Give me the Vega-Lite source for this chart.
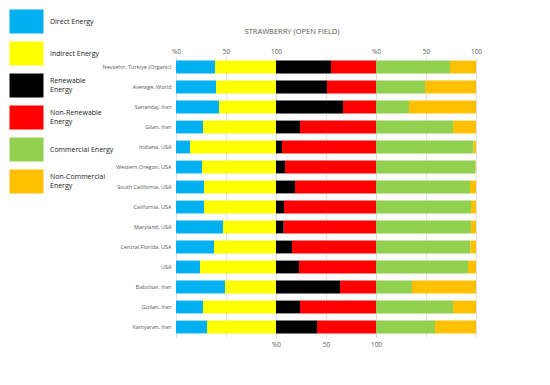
{
  "$schema": "https://vega.github.io/schema/vega-lite/v6.json",
  "background": "white",
  "padding": {"left": 9, "top": 4, "right": 5, "bottom": 5},
  "config": {
    "view": {"stroke": null},
    "font": "Open Sans",
    "concat": {"spacing": 0}
  },
  "spacing": 0,
  "bounds": "flush",
  "datasets": {
    "energy": [
      {"loc": "Nevsehir, Türkiye (Organic)", "cat": "Direct Energy", "val": 39, "panel": 1, "ord": 1},
      {"loc": "Nevsehir, Türkiye (Organic)", "cat": "Indirect Energy", "val": 61, "panel": 1, "ord": 2},
      {"loc": "Average, World", "cat": "Direct Energy", "val": 40, "panel": 1, "ord": 1},
      {"loc": "Average, World", "cat": "Indirect Energy", "val": 60, "panel": 1, "ord": 2},
      {"loc": "Sanandaj, Iran", "cat": "Direct Energy", "val": 43, "panel": 1, "ord": 1},
      {"loc": "Sanandaj, Iran", "cat": "Indirect Energy", "val": 57, "panel": 1, "ord": 2},
      {"loc": "Gilan, Iran", "cat": "Direct Energy", "val": 27, "panel": 1, "ord": 1},
      {"loc": "Gilan, Iran", "cat": "Indirect Energy", "val": 73, "panel": 1, "ord": 2},
      {"loc": "Indiana, USA", "cat": "Direct Energy", "val": 14, "panel": 1, "ord": 1},
      {"loc": "Indiana, USA", "cat": "Indirect Energy", "val": 86, "panel": 1, "ord": 2},
      {"loc": "Western Oregon, USA", "cat": "Direct Energy", "val": 26, "panel": 1, "ord": 1},
      {"loc": "Western Oregon, USA", "cat": "Indirect Energy", "val": 74, "panel": 1, "ord": 2},
      {"loc": "South California, USA", "cat": "Direct Energy", "val": 28, "panel": 1, "ord": 1},
      {"loc": "South California, USA", "cat": "Indirect Energy", "val": 72, "panel": 1, "ord": 2},
      {"loc": "California, USA", "cat": "Direct Energy", "val": 28, "panel": 1, "ord": 1},
      {"loc": "California, USA", "cat": "Indirect Energy", "val": 72, "panel": 1, "ord": 2},
      {"loc": "Maryland, USA", "cat": "Direct Energy", "val": 47, "panel": 1, "ord": 1},
      {"loc": "Maryland, USA", "cat": "Indirect Energy", "val": 53, "panel": 1, "ord": 2},
      {"loc": "Central Florida, USA", "cat": "Direct Energy", "val": 38, "panel": 1, "ord": 1},
      {"loc": "Central Florida, USA", "cat": "Indirect Energy", "val": 62, "panel": 1, "ord": 2},
      {"loc": "USA", "cat": "Direct Energy", "val": 24, "panel": 1, "ord": 1},
      {"loc": "USA", "cat": "Indirect Energy", "val": 76, "panel": 1, "ord": 2},
      {"loc": "Babolsar, Iran", "cat": "Direct Energy", "val": 49, "panel": 1, "ord": 1},
      {"loc": "Babolsar, Iran", "cat": "Indirect Energy", "val": 51, "panel": 1, "ord": 2},
      {"loc": "Guilan, Iran", "cat": "Direct Energy", "val": 27, "panel": 1, "ord": 1},
      {"loc": "Guilan, Iran", "cat": "Indirect Energy", "val": 73, "panel": 1, "ord": 2},
      {"loc": "Kamyaran, Iran", "cat": "Direct Energy", "val": 31, "panel": 1, "ord": 1},
      {"loc": "Kamyaran, Iran", "cat": "Indirect Energy", "val": 69, "panel": 1, "ord": 2},

      {"loc": "Nevsehir, Türkiye (Organic)", "cat": "Renewable Energy", "val": 55, "panel": 2, "ord": 1},
      {"loc": "Nevsehir, Türkiye (Organic)", "cat": "Non-Renewable Energy", "val": 45, "panel": 2, "ord": 2},
      {"loc": "Average, World", "cat": "Renewable Energy", "val": 51, "panel": 2, "ord": 1},
      {"loc": "Average, World", "cat": "Non-Renewable Energy", "val": 49, "panel": 2, "ord": 2},
      {"loc": "Sanandaj, Iran", "cat": "Renewable Energy", "val": 67, "panel": 2, "ord": 1},
      {"loc": "Sanandaj, Iran", "cat": "Non-Renewable Energy", "val": 33, "panel": 2, "ord": 2},
      {"loc": "Gilan, Iran", "cat": "Renewable Energy", "val": 24, "panel": 2, "ord": 1},
      {"loc": "Gilan, Iran", "cat": "Non-Renewable Energy", "val": 76, "panel": 2, "ord": 2},
      {"loc": "Indiana, USA", "cat": "Renewable Energy", "val": 6, "panel": 2, "ord": 1},
      {"loc": "Indiana, USA", "cat": "Non-Renewable Energy", "val": 94, "panel": 2, "ord": 2},
      {"loc": "Western Oregon, USA", "cat": "Renewable Energy", "val": 9, "panel": 2, "ord": 1},
      {"loc": "Western Oregon, USA", "cat": "Non-Renewable Energy", "val": 91, "panel": 2, "ord": 2},
      {"loc": "South California, USA", "cat": "Renewable Energy", "val": 19, "panel": 2, "ord": 1},
      {"loc": "South California, USA", "cat": "Non-Renewable Energy", "val": 81, "panel": 2, "ord": 2},
      {"loc": "California, USA", "cat": "Renewable Energy", "val": 8, "panel": 2, "ord": 1},
      {"loc": "California, USA", "cat": "Non-Renewable Energy", "val": 92, "panel": 2, "ord": 2},
      {"loc": "Maryland, USA", "cat": "Renewable Energy", "val": 7.7, "panel": 2, "ord": 1},
      {"loc": "Maryland, USA", "cat": "Non-Renewable Energy", "val": 92.3, "panel": 2, "ord": 2},
      {"loc": "Central Florida, USA", "cat": "Renewable Energy", "val": 16, "panel": 2, "ord": 1},
      {"loc": "Central Florida, USA", "cat": "Non-Renewable Energy", "val": 84, "panel": 2, "ord": 2},
      {"loc": "USA", "cat": "Renewable Energy", "val": 23, "panel": 2, "ord": 1},
      {"loc": "USA", "cat": "Non-Renewable Energy", "val": 77, "panel": 2, "ord": 2},
      {"loc": "Babolsar, Iran", "cat": "Renewable Energy", "val": 64, "panel": 2, "ord": 1},
      {"loc": "Babolsar, Iran", "cat": "Non-Renewable Energy", "val": 36, "panel": 2, "ord": 2},
      {"loc": "Guilan, Iran", "cat": "Renewable Energy", "val": 24, "panel": 2, "ord": 1},
      {"loc": "Guilan, Iran", "cat": "Non-Renewable Energy", "val": 76, "panel": 2, "ord": 2},
      {"loc": "Kamyaran, Iran", "cat": "Renewable Energy", "val": 41, "panel": 2, "ord": 1},
      {"loc": "Kamyaran, Iran", "cat": "Non-Renewable Energy", "val": 59, "panel": 2, "ord": 2},

      {"loc": "Nevsehir, Türkiye (Organic)", "cat": "Commercial Energy", "val": 74, "panel": 3, "ord": 1},
      {"loc": "Nevsehir, Türkiye (Organic)", "cat": "Non-Commercial Energy", "val": 26, "panel": 3, "ord": 2},
      {"loc": "Average, World", "cat": "Commercial Energy", "val": 49, "panel": 3, "ord": 1},
      {"loc": "Average, World", "cat": "Non-Commercial Energy", "val": 51, "panel": 3, "ord": 2},
      {"loc": "Sanandaj, Iran", "cat": "Commercial Energy", "val": 33, "panel": 3, "ord": 1},
      {"loc": "Sanandaj, Iran", "cat": "Non-Commercial Energy", "val": 67, "panel": 3, "ord": 2},
      {"loc": "Gilan, Iran", "cat": "Commercial Energy", "val": 77, "panel": 3, "ord": 1},
      {"loc": "Gilan, Iran", "cat": "Non-Commercial Energy", "val": 23, "panel": 3, "ord": 2},
      {"loc": "Indiana, USA", "cat": "Commercial Energy", "val": 97.5, "panel": 3, "ord": 1},
      {"loc": "Indiana, USA", "cat": "Non-Commercial Energy", "val": 2.5, "panel": 3, "ord": 2},
      {"loc": "Western Oregon, USA", "cat": "Commercial Energy", "val": 99.6, "panel": 3, "ord": 1},
      {"loc": "Western Oregon, USA", "cat": "Non-Commercial Energy", "val": 0.4, "panel": 3, "ord": 2},
      {"loc": "South California, USA", "cat": "Commercial Energy", "val": 94, "panel": 3, "ord": 1},
      {"loc": "South California, USA", "cat": "Non-Commercial Energy", "val": 6, "panel": 3, "ord": 2},
      {"loc": "California, USA", "cat": "Commercial Energy", "val": 95, "panel": 3, "ord": 1},
      {"loc": "California, USA", "cat": "Non-Commercial Energy", "val": 5, "panel": 3, "ord": 2},
      {"loc": "Maryland, USA", "cat": "Commercial Energy", "val": 95, "panel": 3, "ord": 1},
      {"loc": "Maryland, USA", "cat": "Non-Commercial Energy", "val": 5, "panel": 3, "ord": 2},
      {"loc": "Central Florida, USA", "cat": "Commercial Energy", "val": 94.5, "panel": 3, "ord": 1},
      {"loc": "Central Florida, USA", "cat": "Non-Commercial Energy", "val": 5.5, "panel": 3, "ord": 2},
      {"loc": "USA", "cat": "Commercial Energy", "val": 92, "panel": 3, "ord": 1},
      {"loc": "USA", "cat": "Non-Commercial Energy", "val": 8, "panel": 3, "ord": 2},
      {"loc": "Babolsar, Iran", "cat": "Commercial Energy", "val": 36, "panel": 3, "ord": 1},
      {"loc": "Babolsar, Iran", "cat": "Non-Commercial Energy", "val": 64, "panel": 3, "ord": 2},
      {"loc": "Guilan, Iran", "cat": "Commercial Energy", "val": 77, "panel": 3, "ord": 1},
      {"loc": "Guilan, Iran", "cat": "Non-Commercial Energy", "val": 23, "panel": 3, "ord": 2},
      {"loc": "Kamyaran, Iran", "cat": "Commercial Energy", "val": 59, "panel": 3, "ord": 1},
      {"loc": "Kamyaran, Iran", "cat": "Non-Commercial Energy", "val": 41, "panel": 3, "ord": 2}
    ]
  },
  "data": {"name": "energy"},
  "resolve": {"scale": {"color": "shared", "y": "shared"}},
  "hconcat": [
    {
      "width": 100,
      "height": 280,
      "transform": [{"filter": "datum.panel == 1"}],
      "mark": {"type": "bar"},
      "encoding": {
        "y": {
          "field": "loc", "type": "nominal", "title": null,
          "sort": ["Nevsehir, Türkiye (Organic)", "Average, World", "Sanandaj, Iran", "Gilan, Iran", "Indiana, USA", "Western Oregon, USA", "South California, USA", "California, USA", "Maryland, USA", "Central Florida, USA", "USA", "Babolsar, Iran", "Guilan, Iran", "Kamyaran, Iran"],
          "scale": {"paddingInner": 0.36, "paddingOuter": 0.18},
          "axis": {"domain": false, "ticks": false, "labelFontSize": 5.5, "labelColor": "#595959", "labelPadding": 5, "labelLimit": 200}
        },
        "x": {
          "field": "val", "type": "quantitative", "stack": "zero", "title": null,
          "scale": {"domain": [0, 100]},
          "axis": {"orient": "top", "values": [0, 50, 100], "labelExpr": "datum.value == 0 ? '%0' : datum.label", "domain": false, "ticks": false, "labelFlush": false, "labelFontSize": 6.5, "labelColor": "#595959", "labelPadding": 3, "grid": true, "gridColor": "#d9d9d9", "gridWidth": 0.8}
        },
        "color": {
          "field": "cat", "type": "nominal",
          "scale": {
            "domain": ["Direct Energy", "Indirect Energy", "Renewable Energy", "Non-Renewable Energy", "Commercial Energy", "Non-Commercial Energy"],
            "range": ["#00B0F0", "#FFFF00", "#000000", "#FF0000", "#92D050", "#FFC000"]
          },
          "legend": {
            "orient": "none", "legendX": -167, "legendY": -53, "title": null, "padding": 0,
            "symbolType": "M-1,-0.706H1V0.706H-1Z", "symbolSize": 1156,
            "symbolStrokeColor": "#8497b0", "symbolStrokeWidth": 0.8, "symbolOpacity": 1,
            "labelFontSize": 7, "labelColor": "#1a1a1a", "labelOffset": 6, "labelLimit": 200,
            "rowPadding": -5.5,
            "labelExpr": "datum.label == 'Renewable Energy' ? ['Renewable', 'Energy'] : datum.label == 'Non-Renewable Energy' ? ['Non-Renewable', 'Energy'] : datum.label == 'Non-Commercial Energy' ? ['Non-Commercial', 'Energy'] : datum.label",
            "encoding": {
              "labels": {
                "dy": {"value": {"expr": "datum.value == 'Renewable Energy' || datum.value == 'Non-Renewable Energy' || datum.value == 'Non-Commercial Energy' ? -4.5 : 0"}}
              },
              "symbols": {
                "fill": {"value": {"expr": "datum.value == 'Direct Energy' ? '#5B9BD5' : scale('color', datum.value)"}}
              }
            }
          }
        },
        "order": {"field": "ord"}
      }
    },
    {
      "width": 100,
      "height": 280,
      "title": {"text": "STRAWBERRY (OPEN FIELD)", "fontSize": 7.5, "fontWeight": "normal", "color": "#595959", "offset": 22, "dx": -34, "frame": "group"},
      "transform": [{"filter": "datum.panel == 2"}],
      "mark": {"type": "bar"},
      "encoding": {
        "y": {
          "field": "loc", "type": "nominal", "title": null,
          "sort": ["Nevsehir, Türkiye (Organic)", "Average, World", "Sanandaj, Iran", "Gilan, Iran", "Indiana, USA", "Western Oregon, USA", "South California, USA", "California, USA", "Maryland, USA", "Central Florida, USA", "USA", "Babolsar, Iran", "Guilan, Iran", "Kamyaran, Iran"],
          "scale": {"paddingInner": 0.36, "paddingOuter": 0.18},
          "axis": null
        },
        "x": {
          "field": "val", "type": "quantitative", "stack": "zero", "title": null,
          "scale": {"domain": [0, 100]},
          "axis": {"orient": "bottom", "values": [0, 50, 100], "labelExpr": "datum.value == 0 ? '%0' : datum.label", "domain": false, "ticks": false, "labelFlush": false, "labelFontSize": 6.5, "labelColor": "#595959", "labelPadding": 4, "grid": true, "gridColor": "#d9d9d9", "gridWidth": 0.8}
        },
        "color": {"field": "cat", "type": "nominal"},
        "order": {"field": "ord"}
      }
    },
    {
      "width": 100,
      "height": 280,
      "transform": [{"filter": "datum.panel == 3"}],
      "mark": {"type": "bar"},
      "encoding": {
        "y": {
          "field": "loc", "type": "nominal", "title": null,
          "sort": ["Nevsehir, Türkiye (Organic)", "Average, World", "Sanandaj, Iran", "Gilan, Iran", "Indiana, USA", "Western Oregon, USA", "South California, USA", "California, USA", "Maryland, USA", "Central Florida, USA", "USA", "Babolsar, Iran", "Guilan, Iran", "Kamyaran, Iran"],
          "scale": {"paddingInner": 0.36, "paddingOuter": 0.18},
          "axis": null
        },
        "x": {
          "field": "val", "type": "quantitative", "stack": "zero", "title": null,
          "scale": {"domain": [0, 100]},
          "axis": {"orient": "top", "values": [0, 50, 100], "labelExpr": "datum.value == 0 ? '%0' : datum.label", "domain": false, "ticks": false, "labelFlush": false, "labelFontSize": 6.5, "labelColor": "#595959", "labelPadding": 3, "grid": true, "gridColor": "#d9d9d9", "gridWidth": 0.8}
        },
        "color": {"field": "cat", "type": "nominal"},
        "order": {"field": "ord"}
      }
    }
  ]
}
